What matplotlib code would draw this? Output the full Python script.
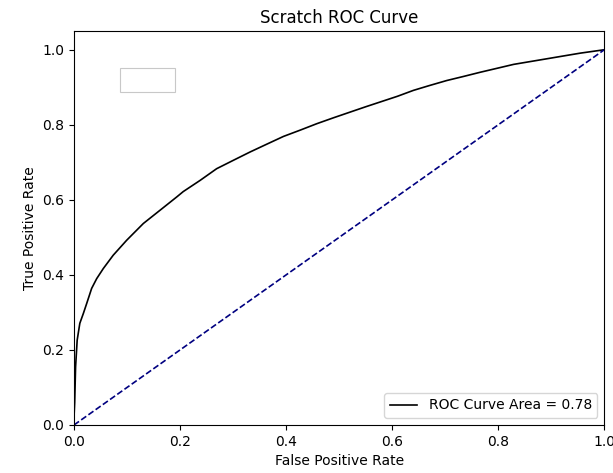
import numpy as np
import matplotlib
matplotlib.use('Agg')
import matplotlib.pyplot as plt
from matplotlib.patches import Rectangle

# ROC points (false positive rate, true positive rate)
fpr = [0.0, 0.0, 0.0013, 0.003, 0.006, 0.011, 0.0176, 0.024, 0.0333, 0.0428,
       0.0553, 0.074, 0.0994, 0.1308, 0.162, 0.194, 0.206, 0.238, 0.269,
       0.30, 0.332, 0.363, 0.395, 0.427, 0.458, 0.49, 0.521, 0.55, 0.577,
       0.61, 0.640, 0.67, 0.703, 0.735, 0.766, 0.80, 0.829, 0.86,
       0.892, 0.92, 0.955, 1.0]
tpr = [0.0, 0.02, 0.06, 0.155, 0.226, 0.271, 0.297, 0.324, 0.364, 0.390,
       0.417, 0.4525, 0.4924, 0.537, 0.572, 0.608, 0.622, 0.652, 0.683,
       0.705, 0.7275, 0.748, 0.769, 0.786, 0.803, 0.819, 0.834, 0.848, 0.8606,
       0.876, 0.8917, 0.9045, 0.918, 0.929, 0.940, 0.9513, 0.961, 0.9684,
       0.976, 0.9827, 0.991, 1.0]
roc_auc = 0.78

chance = [0.0, 1.0]

fig = plt.figure(figsize=(6.13, 4.73), dpi=100)
ax = fig.add_axes([0.1207, 0.1015, 0.8651, 0.833])

ax.plot(fpr, tpr, color='black', lw=1.2, label='ROC Curve Area = %0.2f' % roc_auc)
ax.plot(chance, chance, color='navy', lw=1.2, linestyle='--')

ax.set_xlim([0.0, 1.0])
ax.set_ylim([0.0, 1.05])
ax.set_xlabel('False Positive Rate')
ax.set_ylabel('True Positive Rate')
ax.set_title('Scratch ROC Curve')
ax.legend(loc='lower right')

# empty frame left over in the upper corner
ax.add_patch(Rectangle((0.0868, 0.845), 0.1038, 0.061, transform=ax.transAxes,
                       fill=False, edgecolor='#c8c8c8', lw=0.8))

fig.savefig('out.png', dpi=100)
